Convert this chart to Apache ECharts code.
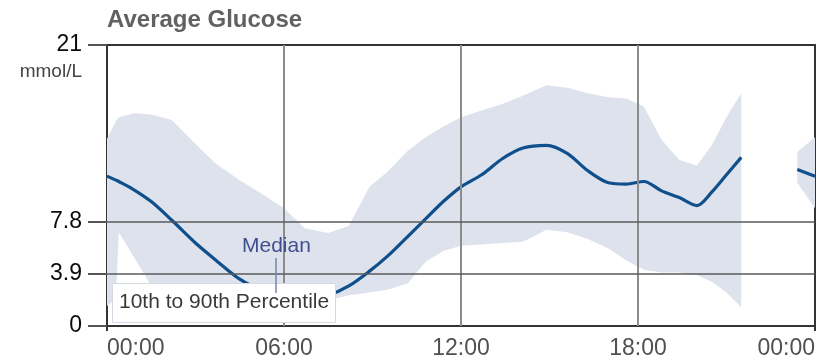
<!DOCTYPE html>
<html>
<head>
<meta charset="utf-8">
<script src="https://cdn.jsdelivr.net/npm/echarts@6/dist/echarts.min.js"></script>
<style>
  html, body { margin: 0; padding: 0; background: #fff; }
  #chart { width: 820px; height: 362px; }
</style>
</head>
<body>
<div id="chart"></div>
<script>
// Time of day in hours; null entries mark periods with no readings
const hours  = [0, 0.3, 0.4, 0.9, 1.5, 2.2, 3.0, 3.7, 4.5, 5.3, 6.0, 6.7, 7.5, 8.2, 8.9, 9.5, 10.2, 10.8, 11.4, 12.0,
                12.7, 13.4, 14.1, 14.9, 15.6, 16.3, 17.0, 17.6, 18.2, 18.8, 19.4, 20.0, 20.5, 21.0, 21.5, 22.4, 23.4, 24.0];
// Median glucose (mmol/L)
const median = [11.2, 10.9, 10.8, 10.2, 9.3, 7.9, 6.2, 4.9, 3.5, 2.6, 2.1, 1.9, 2.3, 3.0, 4.1, 5.2, 6.7, 8.0, 9.3, 10.4,
                11.3, 12.5, 13.3, 13.5, 12.9, 11.6, 10.7, 10.6, 10.8, 10.1, 9.6, 9.0, 10.0, 11.3, 12.6, null, 11.7, 11.2];
// 10th percentile
const p10    = [1.5, 2.0, 7.0, 5.2, 3.0, 2.4, 2.0, 1.8, 1.7, 1.6, 1.6, 1.7, 1.9, 2.3, 2.5, 2.7, 3.2, 4.8, 5.6, 6.0,
                6.1, 6.2, 6.3, 7.2, 7.0, 6.5, 5.8, 4.9, 4.2, 4.0, 4.0, 3.8, 3.3, 2.5, 1.4, null, 10.7, 8.8];
// 90th percentile
const p90    = [14.0, 15.3, 15.6, 15.9, 15.8, 15.4, 13.6, 12.1, 10.9, 9.8, 8.8, 7.3, 6.95, 7.5, 10.4, 11.5, 13.1, 14.1, 14.9, 15.6,
                16.1, 16.6, 17.2, 18.0, 17.8, 17.4, 17.1, 17.0, 16.4, 13.9, 12.4, 12.0, 13.5, 15.6, 17.4, null, 13.0, 14.1];

const yTickValues = [0, 3.9, 7.8, 21];
const targetLines = [3.9, 7.8];
const hourLines   = [6, 12, 18];
const xTickEnds   = [0, 24];

const FONT = '"Liberation Sans", Arial, sans-serif';

function hourLabel(h) {
  const hh = Math.round(h) % 24;
  return (hh < 10 ? '0' : '') + hh + ':00';
}

const medianData = hours.map((h, i) => [h, median[i] === null ? '-' : median[i]]);

// Split the percentile band into continuous runs and draw each as a filled polygon
function renderBand(params, api) {
  const segments = [];
  let cur = [];
  hours.forEach((h, i) => {
    if (p10[i] === null || p90[i] === null) {
      if (cur.length) segments.push(cur);
      cur = [];
    } else {
      cur.push(i);
    }
  });
  if (cur.length) segments.push(cur);
  const children = segments.map(seg => {
    const upper = seg.map(i => api.coord([hours[i], p90[i]]));
    const lower = seg.slice().reverse().map(i => api.coord([hours[i], p10[i]]));
    return {
      type: 'polygon',
      shape: { points: upper.concat(lower) },
      style: { fill: '#dde2ed', stroke: null }
    };
  });
  return { type: 'group', children: children };
}

const chart = echarts.init(document.getElementById('chart'), null, { renderer: 'canvas' });

chart.setOption({
  animation: false,
  backgroundColor: '#fff',
  title: {
    text: 'Average Glucose',
    left: 107,
    top: 8,
    padding: 0,
    textStyle: { fontFamily: FONT, fontSize: 24, fontWeight: 'bold', color: '#616161' }
  },
  grid: {
    left: 107, right: 5, top: 45, bottom: 36,
    show: true, borderColor: '#333', borderWidth: 2, backgroundColor: 'transparent'
  },
  xAxis: {
    type: 'value',
    min: 0, max: 24, interval: 6,
    axisLine: { show: true, lineStyle: { color: '#333', width: 2 } },
    axisTick: { show: true, length: 5, customValues: xTickEnds, lineStyle: { color: '#333', width: 2 } },
    splitLine: { show: false },
    axisLabel: {
      formatter: v => hourLabel(v),
      margin: 11,
      alignMinLabel: 'left',
      alignMaxLabel: 'right',
      fontFamily: FONT, fontSize: 23, color: '#505050'
    }
  },
  yAxis: {
    type: 'value',
    min: 0, max: 21,
    axisLine: { show: true, lineStyle: { color: '#333', width: 2 } },
    axisTick: { show: true, length: 19, customValues: yTickValues, lineStyle: { color: '#555', width: 2 } },
    axisLabel: {
      customValues: yTickValues,
      margin: 25,
      fontFamily: FONT, fontSize: 23, color: '#0c0c0c'
    },
    splitLine: { show: false }
  },
  series: [
    {
      // hour gridlines, beneath the band
      type: 'line', data: [], z: 1, silent: true,
      markLine: {
        symbol: 'none', silent: true, label: { show: false },
        lineStyle: { color: '#8c8c8c', width: 2, type: 'solid' },
        data: hourLines.map(h => ({ xAxis: h }))
      }
    },
    {
      type: 'custom', z: 2, silent: true,
      data: [[0, 0]],
      renderItem: renderBand
    },
    {
      // target range boundaries, above the band
      type: 'line', data: [], z: 3, silent: true,
      markLine: {
        symbol: 'none', silent: true, label: { show: false },
        lineStyle: { color: '#5a5a5a', width: 1.5, type: 'solid' },
        data: targetLines.map(v => ({ yAxis: v }))
      }
    },
    {
      type: 'line', z: 4,
      data: medianData,
      smooth: 0.3,
      showSymbol: false,
      connectNulls: false,
      lineStyle: { color: '#0e4f8c', width: 3.2 }
    }
  ],
  graphic: [
    {
      type: 'text', right: 820 - 82, top: 62, z: 10,
      style: { text: 'mmol/L', fontFamily: FONT, fontSize: 19, fill: '#444', textAlign: 'right' }
    },
    {
      type: 'rect', left: 112, top: 283, z: 10,
      shape: { width: 223, height: 39 },
      style: { fill: '#fff', stroke: '#d4d9e4', lineWidth: 1 }
    },
    {
      type: 'text', left: 119, top: 292, z: 11,
      style: { text: '10th to 90th Percentile', fontFamily: FONT, fontSize: 21, fill: '#3a3a3a' }
    },
    {
      type: 'line', z: 11,
      shape: { x1: 276, y1: 258, x2: 276, y2: 293 },
      style: { stroke: '#7684a8', lineWidth: 1.5 }
    },
    {
      type: 'text', left: 242, top: 236, z: 11,
      style: { text: 'Median', fontFamily: FONT, fontSize: 21, fill: '#404f8f' }
    }
  ]
});
</script>
</body>
</html>
